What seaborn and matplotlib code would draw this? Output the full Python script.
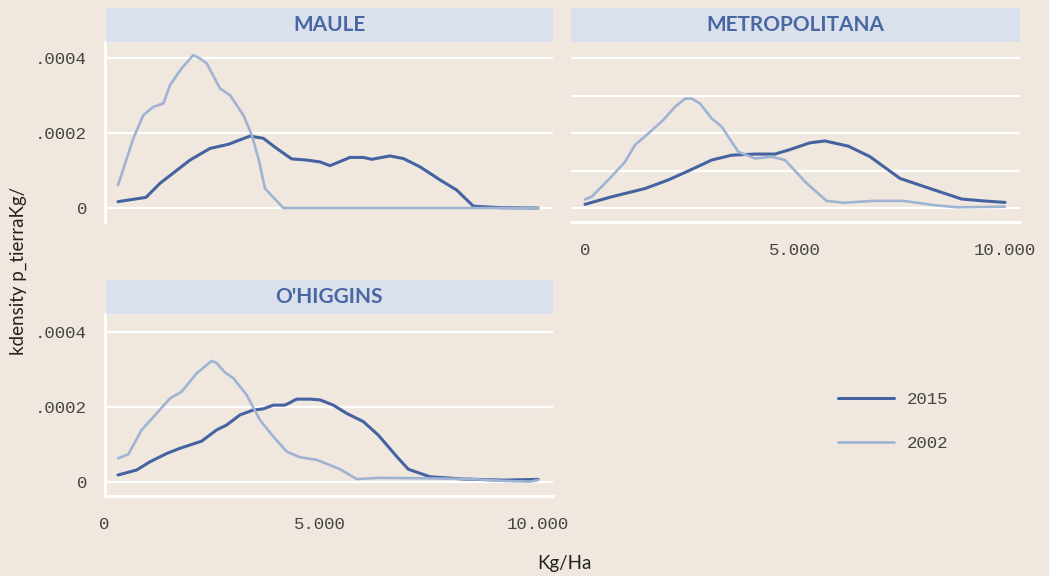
import matplotlib
matplotlib.use("Agg")
import numpy as np
import pandas as pd
import matplotlib.pyplot as plt
import seaborn as sns
from matplotlib.patches import Rectangle
from matplotlib.transforms import ScaledTranslation

# --- datos (kg/ha, densidad) ----------------------------------------------
maule_2015_x = [0, 667, 1000, 1714, 2190, 2627, 3143, 3460, 3778, 4135, 4492, 4810,
                5048, 5524, 5841, 6040, 6476, 6794, 7190, 7667, 8063, 8460, 9095, 10000]
maule_2015_y = [0.000017, 0.0000285, 0.000066, 0.000128, 0.000159, 0.000170, 0.000192,
                0.000186, 0.000159, 0.000131, 0.000128, 0.000123, 0.000113, 0.000135,
                0.000135, 0.000130, 0.000139, 0.000132, 0.000110, 0.000075, 0.000048,
                0.000005, 0.000001, 0.0]
maule_2002_x = [0, 365, 603, 841, 1079, 1238, 1516, 1794, 1952, 2111, 2429, 2667, 2984,
                3183, 3341, 3500, 3937, 5000, 7500, 10000]
maule_2002_y = [0.000061, 0.000186, 0.000248, 0.000270, 0.000279, 0.000328, 0.000373,
                0.000408, 0.000399, 0.000386, 0.000319, 0.000301, 0.000248, 0.000195,
                0.000133, 0.000052, 0.0, 0.0, 0.0, 0.0]

metro_2015_x = [0, 635, 1429, 1984, 2540, 3016, 3492, 4048, 4524, 4881, 5357, 5714, 6270,
                6786, 7500, 8214, 8968, 9484, 10000]
metro_2015_y = [0.0000098, 0.000030, 0.000052, 0.000075, 0.000103, 0.000128, 0.000141,
                0.000144, 0.000144, 0.000156, 0.000174, 0.000179, 0.000165, 0.000137,
                0.000079, 0.000052, 0.000024, 0.000019, 0.000015]
metro_2002_x = [0, 159, 556, 952, 1190, 1508, 1865, 2143, 2381, 2540, 2738, 3016, 3254,
                3651, 4048, 4444, 4762, 5278, 5754, 6151, 6865, 7579, 8294, 8849, 10000]
metro_2002_y = [0.000023, 0.000030, 0.000075, 0.000123, 0.000168, 0.000199, 0.000235,
                0.000270, 0.000292, 0.000292, 0.000279, 0.000239, 0.000217, 0.000150,
                0.000132, 0.000137, 0.000128, 0.000066, 0.000019, 0.000014, 0.000019,
                0.000019, 0.000008, 0.000002, 0.0000035]

ohig_2015_x = [0, 444, 762, 1159, 1476, 1992, 2349, 2587, 2905, 3222, 3460, 3698, 3976,
               4254, 4571, 4810, 5127, 5444, 5841, 6198, 6635, 6913, 7429, 8222, 9175, 10000]
ohig_2015_y = [0.0000187, 0.000032, 0.000054, 0.000076, 0.000090, 0.000109, 0.000139,
               0.000152, 0.000179, 0.000192, 0.000195, 0.000205, 0.000205, 0.000221,
               0.000221, 0.000219, 0.000205, 0.000183, 0.000161, 0.000125, 0.000068,
               0.000034, 0.000014, 0.000008, 0.000005, 0.000007]
ohig_2002_x = [0, 246, 563, 921, 1238, 1516, 1873, 2230, 2349, 2548, 2746, 3064, 3381,
               3698, 4016, 4333, 4730, 5048, 5286, 5683, 6238, 7190, 8381, 9175, 9810, 10000]
ohig_2002_y = [0.000063, 0.000074, 0.000139, 0.000183, 0.000223, 0.000241, 0.000290,
               0.000323, 0.000317, 0.000292, 0.000277, 0.000232, 0.000165, 0.000121,
               0.000081, 0.000066, 0.000059, 0.000045, 0.000034, 0.000008, 0.000011,
               0.000010, 0.000008, 0.000003, 0.000001, 0.000005]

regions = ["MAULE", "METROPOLITANA", "O'HIGGINS"]
years = ["2015", "2002"]
series = {
    ("MAULE", "2015"): (maule_2015_x, maule_2015_y),
    ("MAULE", "2002"): (maule_2002_x, maule_2002_y),
    ("METROPOLITANA", "2015"): (metro_2015_x, metro_2015_y),
    ("METROPOLITANA", "2002"): (metro_2002_x, metro_2002_y),
    ("O'HIGGINS", "2015"): (ohig_2015_x, ohig_2015_y),
    ("O'HIGGINS", "2002"): (ohig_2002_x, ohig_2002_y),
}
x_ticks = [0, 5000, 10000]
x_ticklabels = ["0", "5.000", "10.000"]
y_ticks = [0, 0.0002, 0.0004]
y_ticklabels = ["0", ".0002", ".0004"]

rows = []
for (reg, yr), (xs, ys) in series.items():
    for x, y in zip(xs, ys):
        rows.append({"region": reg, "year": yr, "kg": x, "dens": y})
df = pd.DataFrame(rows)

# --- estilo -----------------------------------------------------------------
BG = "#f0e8df"
STRIP = "#dbe1ec"
TXT_BLUE = "#4867a3"
TICK_TXT = "#444444"
palette = {"2015": "#4463a0", "2002": "#9fb3d3"}
widths = {"2015": 2.2, "2002": 1.9}
MONO = ["Liberation Mono", "DejaVu Sans Mono"]
SANS = ["Lato", "DejaVu Sans"]

sns.set_style("white", {"axes.facecolor": BG, "figure.facecolor": BG})
plt.rcParams["font.family"] = SANS

W, H = 1049, 576
fig = plt.figure(figsize=(W / 100, H / 100), dpi=100)


def px_axes(l, t, r, b):
    return fig.add_axes([l / W, 1 - b / H, (r - l) / W, (b - t) / H])


def strip(l, t, r, b, label):
    fig.add_artist(Rectangle((l / W, 1 - b / H), (r - l) / W, (b - t) / H,
                             transform=fig.transFigure, facecolor=STRIP,
                             edgecolor="none"))
    fig.text((l + r) / 2 / W, 1 - (t + b) / 2 / H, label, ha="center", va="center",
             fontsize=15, fontweight="bold", color=TXT_BLUE, family=SANS)


layout = {
    "MAULE": dict(box=(105, 42, 553, 222), strip=(106, 8, 553, 42),
                  xlim=(-310, 10357), ylim=(-0.0000373, 0.000443), yaxis=True,
                  xaxis=False, xshift=None),
    "METROPOLITANA": dict(box=(571, 42, 1020, 222), strip=(571, 8, 1020, 42),
                          xlim=(-333, 10357), ylim=(-0.0000373, 0.000443), yaxis=False,
                          xaxis=True, xshift=[0, 0, 0]),
    "O'HIGGINS": dict(box=(105, 314, 553, 496), strip=(106, 280, 553, 314),
                      xlim=(-310, 10357), ylim=(-0.0000373, 0.000448), yaxis=True,
                      xaxis=True, xshift=[-14, -8, 0]),
}

handles = None
for reg in regions:
    cfg = layout[reg]
    ax = px_axes(*cfg["box"])
    sub = df[df["region"] == reg]
    for yr in years:
        d = sub[sub["year"] == yr]
        sns.lineplot(data=d, x="kg", y="dens", ax=ax, color=palette[yr],
                     linewidth=widths[yr], label=yr, sort=False)
    if handles is None:
        handles, labels = ax.get_legend_handles_labels()
    ax.get_legend().remove()
    ax.set_xlim(*cfg["xlim"])
    ax.set_ylim(*cfg["ylim"])
    ax.set_xlabel("")
    ax.set_ylabel("")
    for s in ax.spines.values():
        s.set_visible(False)
    ax.set_axisbelow(True)
    ax.tick_params(colors="white", width=1.6, length=6, labelcolor=TICK_TXT,
                   labelsize=12.5)

    if cfg["yaxis"]:
        ax.set_yticks(y_ticks)
        ax.set_yticklabels(y_ticklabels, family=MONO)
        ax.spines["left"].set_visible(True)
        ax.spines["left"].set_color("white")
        ax.spines["left"].set_linewidth(2)
        ax.tick_params(axis="y", pad=7)
    else:
        ax.set_yticks([0, 0.0001, 0.0002, 0.0003, 0.0004])
        ax.set_yticklabels([])
        ax.tick_params(axis="y", length=0)
    ax.yaxis.grid(True, color="white", linewidth=1.6)
    ax.xaxis.grid(False)

    if cfg["xaxis"]:
        ax.set_xticks(x_ticks)
        ax.set_xticklabels(x_ticklabels, family=MONO)
        ax.spines["bottom"].set_visible(True)
        ax.spines["bottom"].set_color("white")
        ax.spines["bottom"].set_linewidth(2)
        ax.tick_params(axis="x", pad=8, length=7)
        for lab, dx in zip(ax.get_xticklabels(), cfg["xshift"]):
            lab.set_transform(lab.get_transform() +
                              ScaledTranslation(dx / 100, 0, fig.dpi_scale_trans))
    else:
        ax.set_xticks([])

    strip(*cfg["strip"], reg)

fig.text(18 / W, 1 - 271 / H, "kdensity p_tierraKg/", rotation=90, ha="center",
         va="center", fontsize=13.5, color="#222222", family=SANS)
fig.text(564 / W, 1 - 563 / H, "Kg/Ha", ha="center", va="center", fontsize=13.5,
         color="#222222", family=SANS)

fig.legend(handles, labels, loc="center left", bbox_to_anchor=(838 / W, 1 - 421.5 / H),
           frameon=False, borderpad=0, borderaxespad=0, handlelength=3.2,
           handletextpad=0.75, labelspacing=1.62, prop={"family": MONO, "size": 12.5},
           labelcolor=TICK_TXT)

fig.savefig("out.png", dpi=100, facecolor=BG)
